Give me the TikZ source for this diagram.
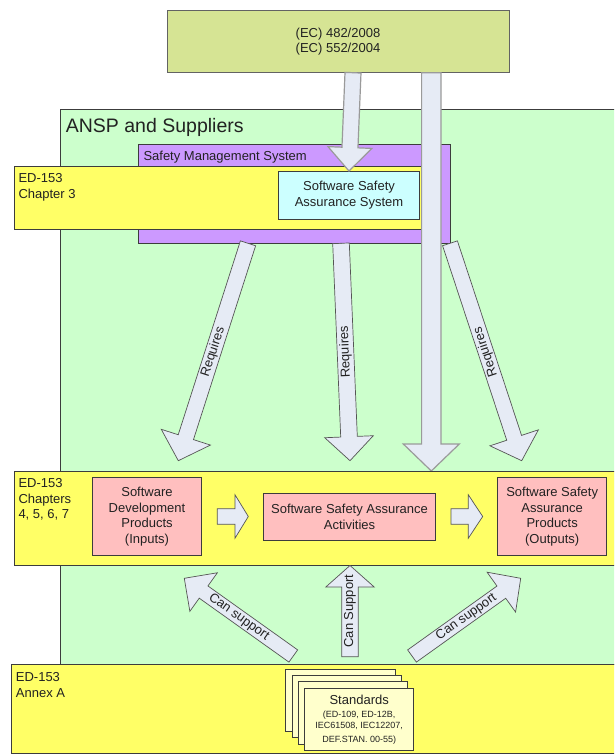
\documentclass[tikz,border=0pt]{standalone}
\usepackage{fontspec}
\setmainfont{Liberation Sans}
\usetikzlibrary{calc}

\definecolor{textc}{HTML}{222222}
\definecolor{linec}{HTML}{3C3C3C}
\definecolor{ecfill}{HTML}{D6E494}
\definecolor{anspfill}{HTML}{CCFFCC}
\definecolor{smsfill}{HTML}{CC99FF}
\definecolor{edfill}{HTML}{FFFF66}
\definecolor{ssasfill}{HTML}{CCFFFF}
\definecolor{prodfill}{HTML}{FFBFBF}
\definecolor{arrowfill}{HTML}{E6EBF5}
\definecolor{arrowline}{HTML}{555555}
\definecolor{arrowgray}{HTML}{9A9A9A}
\definecolor{cardfill}{HTML}{FFFFCC}

% Block arrow: #1 name, #2 tail, #3 tip, #4 shaft half width,
% #5 head half width, #6 head length, #7 style
\newcommand{\blockarrow}[7]{%
  \coordinate (#1-base) at ($(#3)!#6!(#2)$);
  \filldraw[#7] ($(#2)!#4!90:(#3)$) -- ($(#1-base)!#4!90:(#3)$)
    -- ($(#1-base)!#5!90:(#3)$) -- (#3)
    -- ($(#1-base)!#5!-90:(#3)$) -- ($(#1-base)!#4!-90:(#3)$)
    -- ($(#2)!#4!-90:(#3)$) -- cycle;
}

\begin{document}
\begin{tikzpicture}[x=1pt,y=-1pt,
  every node/.style={text=textc},
  txt/.style={font=\fontsize{13}{15.5}\selectfont},
  box/.style={draw=linec, line width=0.8pt, inner sep=0pt, outer sep=0pt,
    txt, align=center},
  corner/.style={txt, anchor=north west, inner sep=0pt, align=left},
  darkarrow/.style={fill=arrowfill, draw=arrowline, line width=0.7pt, line join=miter},
  grayarrow/.style={fill=arrowfill, draw=arrowgray, line width=1.2pt, line join=miter},
  card/.style={draw=linec, line width=0.8pt, fill=cardfill, inner sep=0pt,
    minimum width=109.3pt, minimum height=62.5pt}
]
\useasboundingbox (0,0) rectangle (614,754);
\clip (0,0) rectangle (614,754);

% Regulation box
\node[box, draw=linec!80, fill=ecfill, minimum width=342pt, minimum height=62pt]
  (ec) at (338,41.7) {(EC) 482/2008\\(EC) 552/2004};

% ANSP and suppliers area
\node[box, fill=anspfill, anchor=north west, minimum width=560pt, minimum height=554.7pt]
  (ansp) at (60.7,109.3) {};
\node[font=\fontsize{19.5}{22}\selectfont, anchor=base west, inner sep=0pt]
  (ansplabel) at (65.7,132.5) {ANSP and Suppliers};

% Safety management system
\node[box, fill=smsfill, anchor=north west, minimum width=312pt, minimum height=99.3pt]
  (sms) at (138.7,144) {};
\node[txt, anchor=base west, inner sep=0pt] (smslabel) at (143.3,160.6) {Safety Management System};

% ED-153 chapter 3
\node[box, fill=edfill, anchor=north west, minimum width=407.3pt, minimum height=62.3pt]
  (ch3) at (14,166.7) {};
\node[corner] (ch3label) at (18.3,173.7) {ED-153\\Chapter 3};

\node[box, fill=ssasfill, minimum width=141.4pt, minimum height=48pt]
  (ssas) at (349,195) {Software Safety\\Assurance System};

% Regulation arrows
\coordinate (ecA) at (353,72.7);
\coordinate (ssasA) at (349,171);
\blockarrow{a1}{ecA}{ssasA}{8pt}{22pt}{23.5pt}{grayarrow}
\coordinate (ecB) at (431.3,72.7);
\coordinate (chB) at (431.3,471);
\blockarrow{a2}{ecB}{chB}{9.7pt}{28pt}{27pt}{grayarrow}

% "Requires" arrows
\coordinate (r1t) at (248,243.3);   \coordinate (r1h) at (178.3,460.7);
\coordinate (r2t) at (341,243.3);   \coordinate (r2h) at (350,460.7);
\coordinate (r3t) at (450,243.3);   \coordinate (r3h) at (521.7,460.7);
\blockarrow{r1}{r1t}{r1h}{8pt}{25.8pt}{24.7pt}{darkarrow}
\blockarrow{r2}{r2t}{r2h}{8.3pt}{24.3pt}{24pt}{darkarrow}
\blockarrow{r3}{r3t}{r3h}{7.8pt}{25.5pt}{24.1pt}{darkarrow}
\node[txt, rotate=72]  (r1label) at ($(r1t)!0.5!(r1h)$) {Requires};
\node[txt, rotate=92.4] (r2label) at ($(r2t)!0.5!(r2h)$) {Requires};
\node[txt, rotate=108.3] (r3label) at ($(r3t)!0.5!(r3h)$) {Requires};

% ED-153 chapters 4-7
\node[box, fill=edfill, anchor=north west, minimum width=606pt, minimum height=94pt]
  (ch47) at (14,471) {};
\node[corner, font=\fontsize{13}{15.3}\selectfont] (ch47label) at (18.3,478.7)
  {ED-153\\Chapters\\4, 5, 6, 7};

\node[box, fill=prodfill, minimum width=109.4pt, minimum height=77.6pt]
  (sdp) at (147,516.5) {Software\\Development\\Products\\(Inputs)};
\node[box, fill=prodfill, minimum width=172.4pt, minimum height=46.7pt]
  (ssaa) at (349.5,516.7) {Software Safety Assurance\\Activities};
\node[box, fill=prodfill, minimum width=109pt, minimum height=77.6pt]
  (ssap) at (552.2,516.5) {Software Safety\\Assurance\\Products\\(Outputs)};

\coordinate (h1t) at (217.3,516.5);  \coordinate (h1h) at (248.3,516.5);
\coordinate (h2t) at (451,516.5);    \coordinate (h2h) at (482.7,516.5);
\blockarrow{h1}{h1t}{h1h}{7.8pt}{21.7pt}{13.3pt}{darkarrow}
\blockarrow{h2}{h2t}{h2h}{7.8pt}{21.7pt}{14.4pt}{darkarrow}

% "Can support" arrows
\coordinate (c1t) at (293.3,656);   \coordinate (c1h) at (184.3,578.3);
\coordinate (c2t) at (350,656.7);   \coordinate (c2h) at (350,565.5);
\coordinate (c3t) at (412,656);     \coordinate (c3h) at (520.7,578.3);
\blockarrow{c1}{c1t}{c1h}{7.5pt}{23.7pt}{23.7pt}{darkarrow}
\blockarrow{c2}{c2t}{c2h}{8.3pt}{24.2pt}{21.5pt}{darkarrow}
\blockarrow{c3}{c3t}{c3h}{7.5pt}{24.5pt}{23.8pt}{darkarrow}
\node[txt, rotate=-35.5] (c1label) at ($(c1t)!0.5!(c1h)$) {Can support};
\node[txt, rotate=90]    (c2label) at ($(c2t)!0.5!(c2h)$) {Can Support};
\node[txt, rotate=35.5]  (c3label) at ($(c3t)!0.5!(c3h)$) {Can support};

% ED-153 annex A
\node[box, fill=edfill, anchor=north west, minimum width=609pt, minimum height=89pt]
  (annex) at (11,664) {};
\node[corner, font=\fontsize{13}{16}\selectfont] (annexlabel) at (15.7,672) {ED-153\\Annex A};

% Stack of standards
\node[card] (card1) at (340.3,700.5) {};
\node[card] (card2) at (346.6,706.6) {};
\node[card] (card3) at (352.9,712.7) {};
\node[card] (card4) at (359.2,719.2) {};
\node[txt, anchor=base, inner sep=0pt] (stdtitle) at (359.2,704) {Standards};
\node[font=\fontsize{9}{11}\selectfont, align=center, anchor=north, inner sep=0pt]
  (stdlist) at (359.2,710.9) {(ED-109, ED-12B,\\IEC61508, IEC12207,\\[3pt]DEF.STAN. 00-55)};
\end{tikzpicture}
\end{document}
